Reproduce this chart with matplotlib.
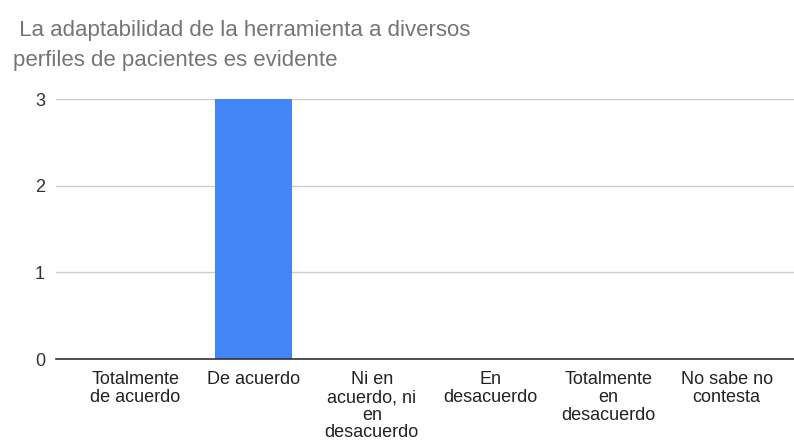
import matplotlib.pyplot as plt

# Datos
categorias = ['Totalmente\nde acuerdo', 'De acuerdo', 'Ni en\nacuerdo, ni\nen\ndesacuerdo',
              'En\ndesacuerdo', 'Totalmente\nen\ndesacuerdo', 'No sabe no\ncontesta']
valores = [0, 3, 0, 0, 0, 0]
titulo = [' La adaptabilidad de la herramienta a diversos', 'perfiles de pacientes es evidente']

plt.rcParams['font.family'] = ['Liberation Sans', 'DejaVu Sans']

fig = plt.figure(figsize=(7.94, 4.42), dpi=100)
ax = fig.add_axes([56/794, 1 - 359/442, 738/794, 260/442])

x = range(len(categorias))
ax.bar(x, valores, width=0.645, color='#4285F4', zorder=3)

ax.set_xlim(-0.67, 5.57)
ax.set_ylim(0, 3)
ax.set_yticks([0, 1, 2, 3])
ax.set_xticks(list(x))
ax.set_xticklabels(categorias, fontsize=13, color='#222222', linespacing=1.04)
ax.tick_params(axis='x', length=0, pad=9)
ax.tick_params(axis='y', length=0, pad=8, labelsize=13, labelcolor='#333333')

ax.grid(axis='y', color='#cccccc', linewidth=1, zorder=0)
for lado in ['top', 'right', 'left']:
    ax.spines[lado].set_visible(False)
ax.spines['bottom'].set_color('#333333')
ax.spines['bottom'].set_linewidth(1.2)
ax.spines['bottom'].set_zorder(4)

# Título en dos líneas
fig.text(13/794, 1 - 36/442, titulo[0], fontsize=16, color='#757575', va='baseline', ha='left')
fig.text(13/794, 1 - 66/442, titulo[1], fontsize=16, color='#757575', va='baseline', ha='left')

fig.savefig('out.png', dpi=100)
